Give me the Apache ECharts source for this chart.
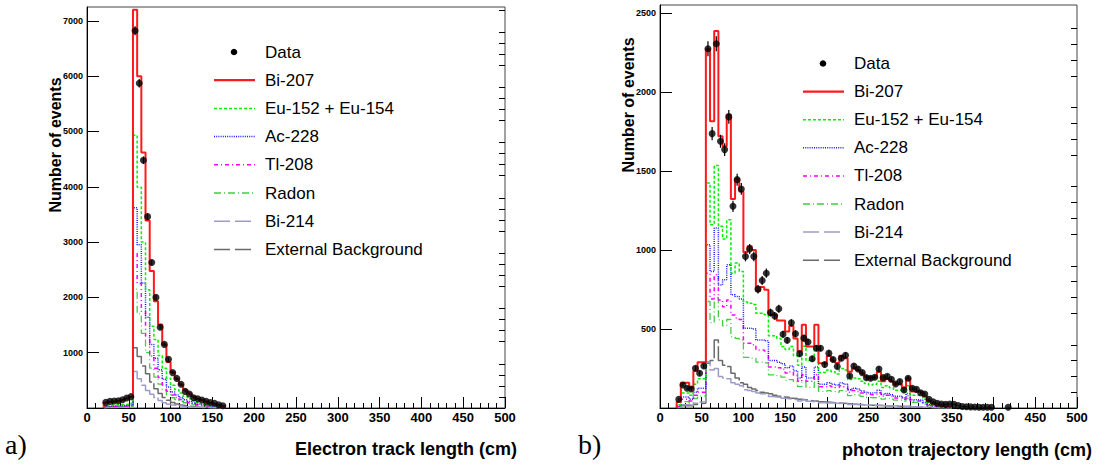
<!DOCTYPE html>
<html>
<head>
<meta charset="utf-8">
<script src="https://cdn.jsdelivr.net/npm/echarts@6/dist/echarts.min.js"></script>
<style>
html, body { margin: 0; padding: 0; background: #fff; }
#chart { width: 1113px; height: 470px; }
</style>
</head>
<body>
<div id="chart"></div>
<script>
// Histogram binning (cm)
const binWidth = 5;
const electronStart = 20;
const photonStart = 20;

// a) Electron track length: expected counts per 5 cm bin, first bin 20-25 cm
const electronBi207 = [95,110,118,125,140,165,205,7200,6000,4620,3390,2475,1930,1510,1150,830,645,525,420,330,262,205,168,138,112,92,72,52,36];
const electronEu = [45,50,55,58,62,70,85,4930,3990,3000,2140,1480,1240,950,720,540,410,330,270,210,165,130,100,80,62,48,36,25,15];
const electronAc = [30,35,38,40,44,50,60,3620,2950,2260,1640,1150,900,690,520,380,290,235,190,150,118,92,72,57,45,35,26,18,11];
const electronTl = [22,26,28,30,33,38,45,2800,2250,1750,1300,940,720,550,415,305,235,190,155,120,95,75,58,46,36,28,21,14,9];
const electronRadon = [15,18,20,22,25,28,34,2150,1700,1350,1000,720,560,430,325,240,185,150,122,95,75,60,46,37,29,22,16,11,7];
const electronBi214 = [8,10,11,12,13,15,18,660,530,410,315,250,190,135,95,70,52,40,32,25,19,15,12,9,7,5,4,3,2];
const electronExt = [20,22,24,26,28,32,38,1090,930,760,620,470,350,260,190,140,100,72,52,40,30,22,17,13,10,8,6,4,3];
// measured counts and their errors, at the bin centres
const electronData = [102,120,125,131,150,180,205,6820,5870,4480,3460,2630,2000,1460,1150,880,640,535,430,300,252,185,165,145,120,100,85,60,40];
const electronErr = [10,11,11,11,12,13,14,83,77,67,59,51,45,38,34,30,25,23,21,17,16,14,13,12,11,10,9,8,6];

// b) Photon trajectory length: expected counts per 5 cm bin, first bin 20-25 cm
const photonBi207 = [40,160,160,130,235,290,290, 2270,1815,2385,1720,1656,1857,1322,1450,1370, 985,1025,1000,740,765,748,589,589,553,553, 484,520,440,357,526,389,389,526,283,283, 330,300,285,330,315,230,250,240,220,200, 190,195,230,170,185,170,150,150,130,188, 105,105,103,75,45,30,20,12,8,4];
const photonEu = [20,95,95,80,150,185,185, 1424,1160,1534,1150,1069,1191,853,917,864, 670,663,655,600,600,590,457,457,440,389, 370,389,330,270,390,300,300,390,225,225, 240,230,215,250,240,180,190,185,170,155, 145,150,170,130,140,128,112,112,100,140, 80,80,77,56,34,22,15,9,6,3];
const photonAc = [12,70,70,55,100,125,125, 1033,864,1139,779,811,906,716,705,690, 505,505,500,430,430,425,300,300,290,280, 255,265,235,190,260,190,190,260,150,150, 160,150,145,160,150,115,125,120,108,100, 95,98,112,85,92,84,74,74,65,92, 52,52,50,37,22,15,10,6,4,2];
const photonTl = [10,55,55,45,80,100,100, 853,690,843,684,640,684,589,570,560, 410,410,400,367,367,360,260,260,255,245, 222,230,205,170,210,170,170,210,135,135, 140,135,130,140,135,100,110,105,95,88, 84,86,96,74,80,72,64,64,56,78, 45,45,43,32,19,13,9,5,3,2];
const photonRadon = [8,40,40,32,60,75,75, 674,540,700,558,520,560,450,440,430, 320,320,315,290,290,285,210,210,205,195, 175,180,165,135,165,130,130,165,105,105, 110,105,100,110,105,78,85,82,74,68, 65,66,74,56,62,56,50,50,44,60, 35,35,33,25,15,10,7,4,2,1];
const photonBi214 = [5,20,20,18,30,38,40, 293,240,250,200,190,185,160,150,140, 115,110,105,95,90,88,72,70,68,62, 58,56,52,45,50,42,40,46,34,32, 33,31,29,30,28,22,23,22,20,18, 17,17,18,15,15,14,12,12,10,13, 8,8,7,5,4,3,2,1,1,0];
const photonExt = [3,15,15,12,22,28,30, 283,300,431,300,270,262,220,190,160, 150,130,120,110,100,95,90,80,75,70, 68,62,60,55,52,48,45,45,40,38, 36,34,32,30,28,25,24,22,20,18, 17,16,16,14,13,12,11,10,9,9, 7,6,5,4,3,2,2,1,1,0];
const photonData = [55,146,125,120,251,220,266, 2273,1736,2305,1688,1635,1842,1276,1445,1386, 959,1006,959,752,807,853,604,583,628,467, 429,539,470,344,442,418,312,378,378,275, 347,307,262,315,334,203,266,247,224,192, 188,195,247,192,200,182,152,167,114,188, 125,118,97,89,55,40,30,25,23,25, 23,15,9,8,7,6,5,5,5,5, null,null,null,5];
const photonErr = [7,12,11,11,16,15,16, 48,42,48,41,40,43,36,38,37, 31,32,31,27,28,29,25,24,25,22, 21,23,22,19,21,20,18,19,19,17, 19,18,16,18,18,14,16,16,15,14, 14,14,16,14,14,13,12,13,11,14, 11,11,10,9,7,6,5,5,5,5, 5,4,3,3,3,2,2,2,2,2, 0,0,0,2];

// Axis ranges and labelled ticks
const xMax = 500;
const electronYMax = 7250;
const photonYMax = 2550;
const electronYTicks = [1000,2000,3000,4000,5000,6000,7000];
const photonYTicks = [500,1000,1500,2000,2500];

const componentNames = ['Bi-207','Eu-152 + Eu-154','Ac-228','Tl-208','Radon','Bi-214','External Background'];
const electronComponents = [electronBi207, electronEu, electronAc, electronTl, electronRadon, electronBi214, electronExt];
const photonComponents = [photonBi207, photonEu, photonAc, photonTl, photonRadon, photonBi214, photonExt];

// colour, width, dash in the plot, dash in the legend
const lineStyles = {
  'Bi-207': { color: '#ff1a1a', width: 2, type: 'solid', key: null },
  'Eu-152 + Eu-154': { color: '#00f000', width: 1.5, type: [3, 2], key: [3, 2] },
  'Ac-228': { color: '#1a1aff', width: 1.5, type: [1, 1.2], key: [1, 1.2] },
  'Tl-208': { color: '#ff00ff', width: 1.5, type: [4, 3, 1, 3], key: [4, 3, 1, 3] },
  'Radon': { color: '#44cc44', width: 1.3, type: [7, 3, 1, 3], key: [7, 3, 1, 3] },
  'Bi-214': { color: '#9c9cc8', width: 1.5, type: [26, 3], key: [16, 5] },
  'External Background': { color: '#6a6a6a', width: 1.5, type: [26, 3], key: [16, 5] }
};

const FONT = '"Liberation Sans", Arial, Helvetica, sans-serif';

// outline of a histogram as step points: up at the first edge, down after the last bin
function histOutline(start, width, values) {
  const pts = [[start, 0]];
  values.forEach((v, i) => pts.push([start + i * width, v]));
  pts.push([start + values.length * width, 0]);
  return pts;
}

function dataPoints(start, width, values, errors) {
  const pts = [];
  values.forEach((v, i) => {
    if (v !== null) pts.push([start + (i + 0.5) * width, v, errors[i]]);
  });
  return pts;
}

function minorValues(majorStep, max) {
  const out = [];
  const step = majorStep / 5;
  for (let v = step; v < max; v += step) {
    if (Math.abs(v / majorStep - Math.round(v / majorStep)) > 1e-6) out.push(Math.round(v));
  }
  return out;
}

function xAxisFor(gridIndex) {
  return {
    type: 'value', gridIndex, min: 0, max: xMax, interval: 50,
    axisLine: { onZero: false, lineStyle: { color: '#000', width: 1 } },
    axisTick: { inside: true, length: 11, lineStyle: { color: '#000' } },
    minorTick: { show: true, splitNumber: 5, length: 5, lineStyle: { color: '#000' } },
    splitLine: { show: false },
    axisLabel: { fontFamily: FONT, fontWeight: 'bold', fontSize: 13, color: '#000', margin: 3, formatter: v => String(v) }
  };
}

function yAxesFor(gridIndex, max, ticks, step) {
  return [
    {
      type: 'value', gridIndex, min: 0, max,
      axisLine: { show: true, lineStyle: { color: '#000', width: 1 } },
      axisTick: { show: true, inside: true, length: 12, customValues: [0].concat(ticks), lineStyle: { color: '#000' } },
      axisLabel: { customValues: ticks, fontFamily: FONT, fontWeight: 'bold', fontSize: 9, color: '#000', margin: 4, formatter: v => String(v) },
      splitLine: { show: false }
    },
    {
      type: 'value', gridIndex, min: 0, max,
      axisLine: { show: false },
      axisTick: { show: true, inside: true, length: 6, customValues: minorValues(step, max), lineStyle: { color: '#000' } },
      axisLabel: { show: false },
      splitLine: { show: false }
    }
  ];
}

const series = [];
function addPanel(p, start, components, data, errors, yIndex) {
  // components first, the Bi-207 outline last so it lies on top
  const order = [6, 5, 4, 3, 2, 1, 0];
  order.forEach(k => {
    const name = componentNames[k];
    const st = lineStyles[name];
    series.push({
      type: 'line', name, xAxisIndex: p, yAxisIndex: yIndex,
      step: 'end', symbol: 'none', silent: true, animation: false,
      lineStyle: { color: st.color, width: st.width, type: st.type },
      data: histOutline(start, binWidth, components[k])
    });
  });
  const pts = dataPoints(start, binWidth, data, errors);
  series.push({
    type: 'custom', name: 'Data errors', xAxisIndex: p, yAxisIndex: yIndex,
    silent: true, animation: false, clip: false, z: 4,
    encode: { x: 0, y: 1 },
    data: pts,
    renderItem: (params, api) => {
      const x = api.value(0), v = api.value(1), e = api.value(2);
      const a = api.coord([x, Math.max(0, v - e)]);
      const b = api.coord([x, v + e]);
      return { type: 'line', shape: { x1: a[0], y1: a[1], x2: b[0], y2: b[1] }, style: { stroke: '#000', lineWidth: 1.2 } };
    }
  });
  series.push({
    type: 'scatter', name: 'Data', xAxisIndex: p, yAxisIndex: yIndex,
    symbol: 'circle', symbolSize: 7, silent: true, animation: false, clip: false, z: 5,
    itemStyle: { color: '#000' },
    data: pts.map(d => [d[0], d[1]])
  });
}
addPanel(0, electronStart, electronComponents, electronData, electronErr, 0);
addPanel(1, photonStart, photonComponents, photonData, photonErr, 2);

// legend boxes drawn as graphics
function legendGraphics(x0, yData, step) {
  const g = [];
  g.push({ type: 'circle', shape: { cx: x0 + 20, cy: yData, r: 3.3 }, style: { fill: '#000' }, silent: true });
  g.push({ type: 'text', x: x0 + 51, y: yData, style: { text: 'Data', font: '17px ' + FONT, fill: '#000', textVerticalAlign: 'middle' }, silent: true });
  componentNames.forEach((name, i) => {
    const y = yData + step * (i + 1);
    const st = lineStyles[name];
    g.push({ type: 'line', shape: { x1: x0, y1: y, x2: x0 + 41, y2: y },
      style: { stroke: st.color, lineWidth: st.width === 2 ? 2.2 : st.width, lineDash: st.key }, silent: true });
    g.push({ type: 'text', x: x0 + 51, y, style: { text: name, font: '17px ' + FONT, fill: '#000', textVerticalAlign: 'middle' }, silent: true });
  });
  return g;
}

const titleFontY = 'bold 16px ' + FONT;
const titleFontX = 'bold 18px ' + FONT;
const graphic = [
  { type: 'text', x: 55, y: 145, rotation: Math.PI / 2, style: { text: 'Number of events', font: titleFontY, fill: '#000', textAlign: 'center', textVerticalAlign: 'middle' }, silent: true },
  { type: 'text', x: 628, y: 105, rotation: Math.PI / 2, style: { text: 'Number of events', font: titleFontY, fill: '#000', textAlign: 'center', textVerticalAlign: 'middle' }, silent: true },
  { type: 'text', x: 517, y: 449, style: { text: 'Electron track length (cm)', font: titleFontX, fill: '#000', textAlign: 'right', textVerticalAlign: 'middle' }, silent: true },
  { type: 'text', x: 1092, y: 450, style: { text: 'photon trajectory length (cm)', font: titleFontX, fill: '#000', textAlign: 'right', textVerticalAlign: 'middle' }, silent: true },
  { type: 'text', x: 5, y: 444, style: { text: 'a)', font: '28px "Liberation Serif", "DejaVu Serif", serif', fill: '#000', textVerticalAlign: 'middle' }, silent: true },
  { type: 'text', x: 578, y: 444, style: { text: 'b)', font: '28px "Liberation Serif", "DejaVu Serif", serif', fill: '#000', textVerticalAlign: 'middle' }, silent: true }
].concat(legendGraphics(214, 52, 28.2), legendGraphics(803, 63.5, 28.1));

const chart = echarts.init(document.getElementById('chart'), null, { renderer: 'svg' });
chart.setOption({
  animation: false,
  backgroundColor: '#fff',
  grid: [
    { left: 87, top: 7, width: 418, height: 401, show: true, borderColor: '#444', borderWidth: 1, backgroundColor: 'transparent' },
    { left: 660, top: 5, width: 417, height: 403, show: true, borderColor: '#444', borderWidth: 1, backgroundColor: 'transparent' }
  ],
  xAxis: [xAxisFor(0), xAxisFor(1)],
  yAxis: yAxesFor(0, electronYMax, electronYTicks, 1000).concat(yAxesFor(1, photonYMax, photonYTicks, 500)),
  series,
  graphic
});
</script>
</body>
</html>
